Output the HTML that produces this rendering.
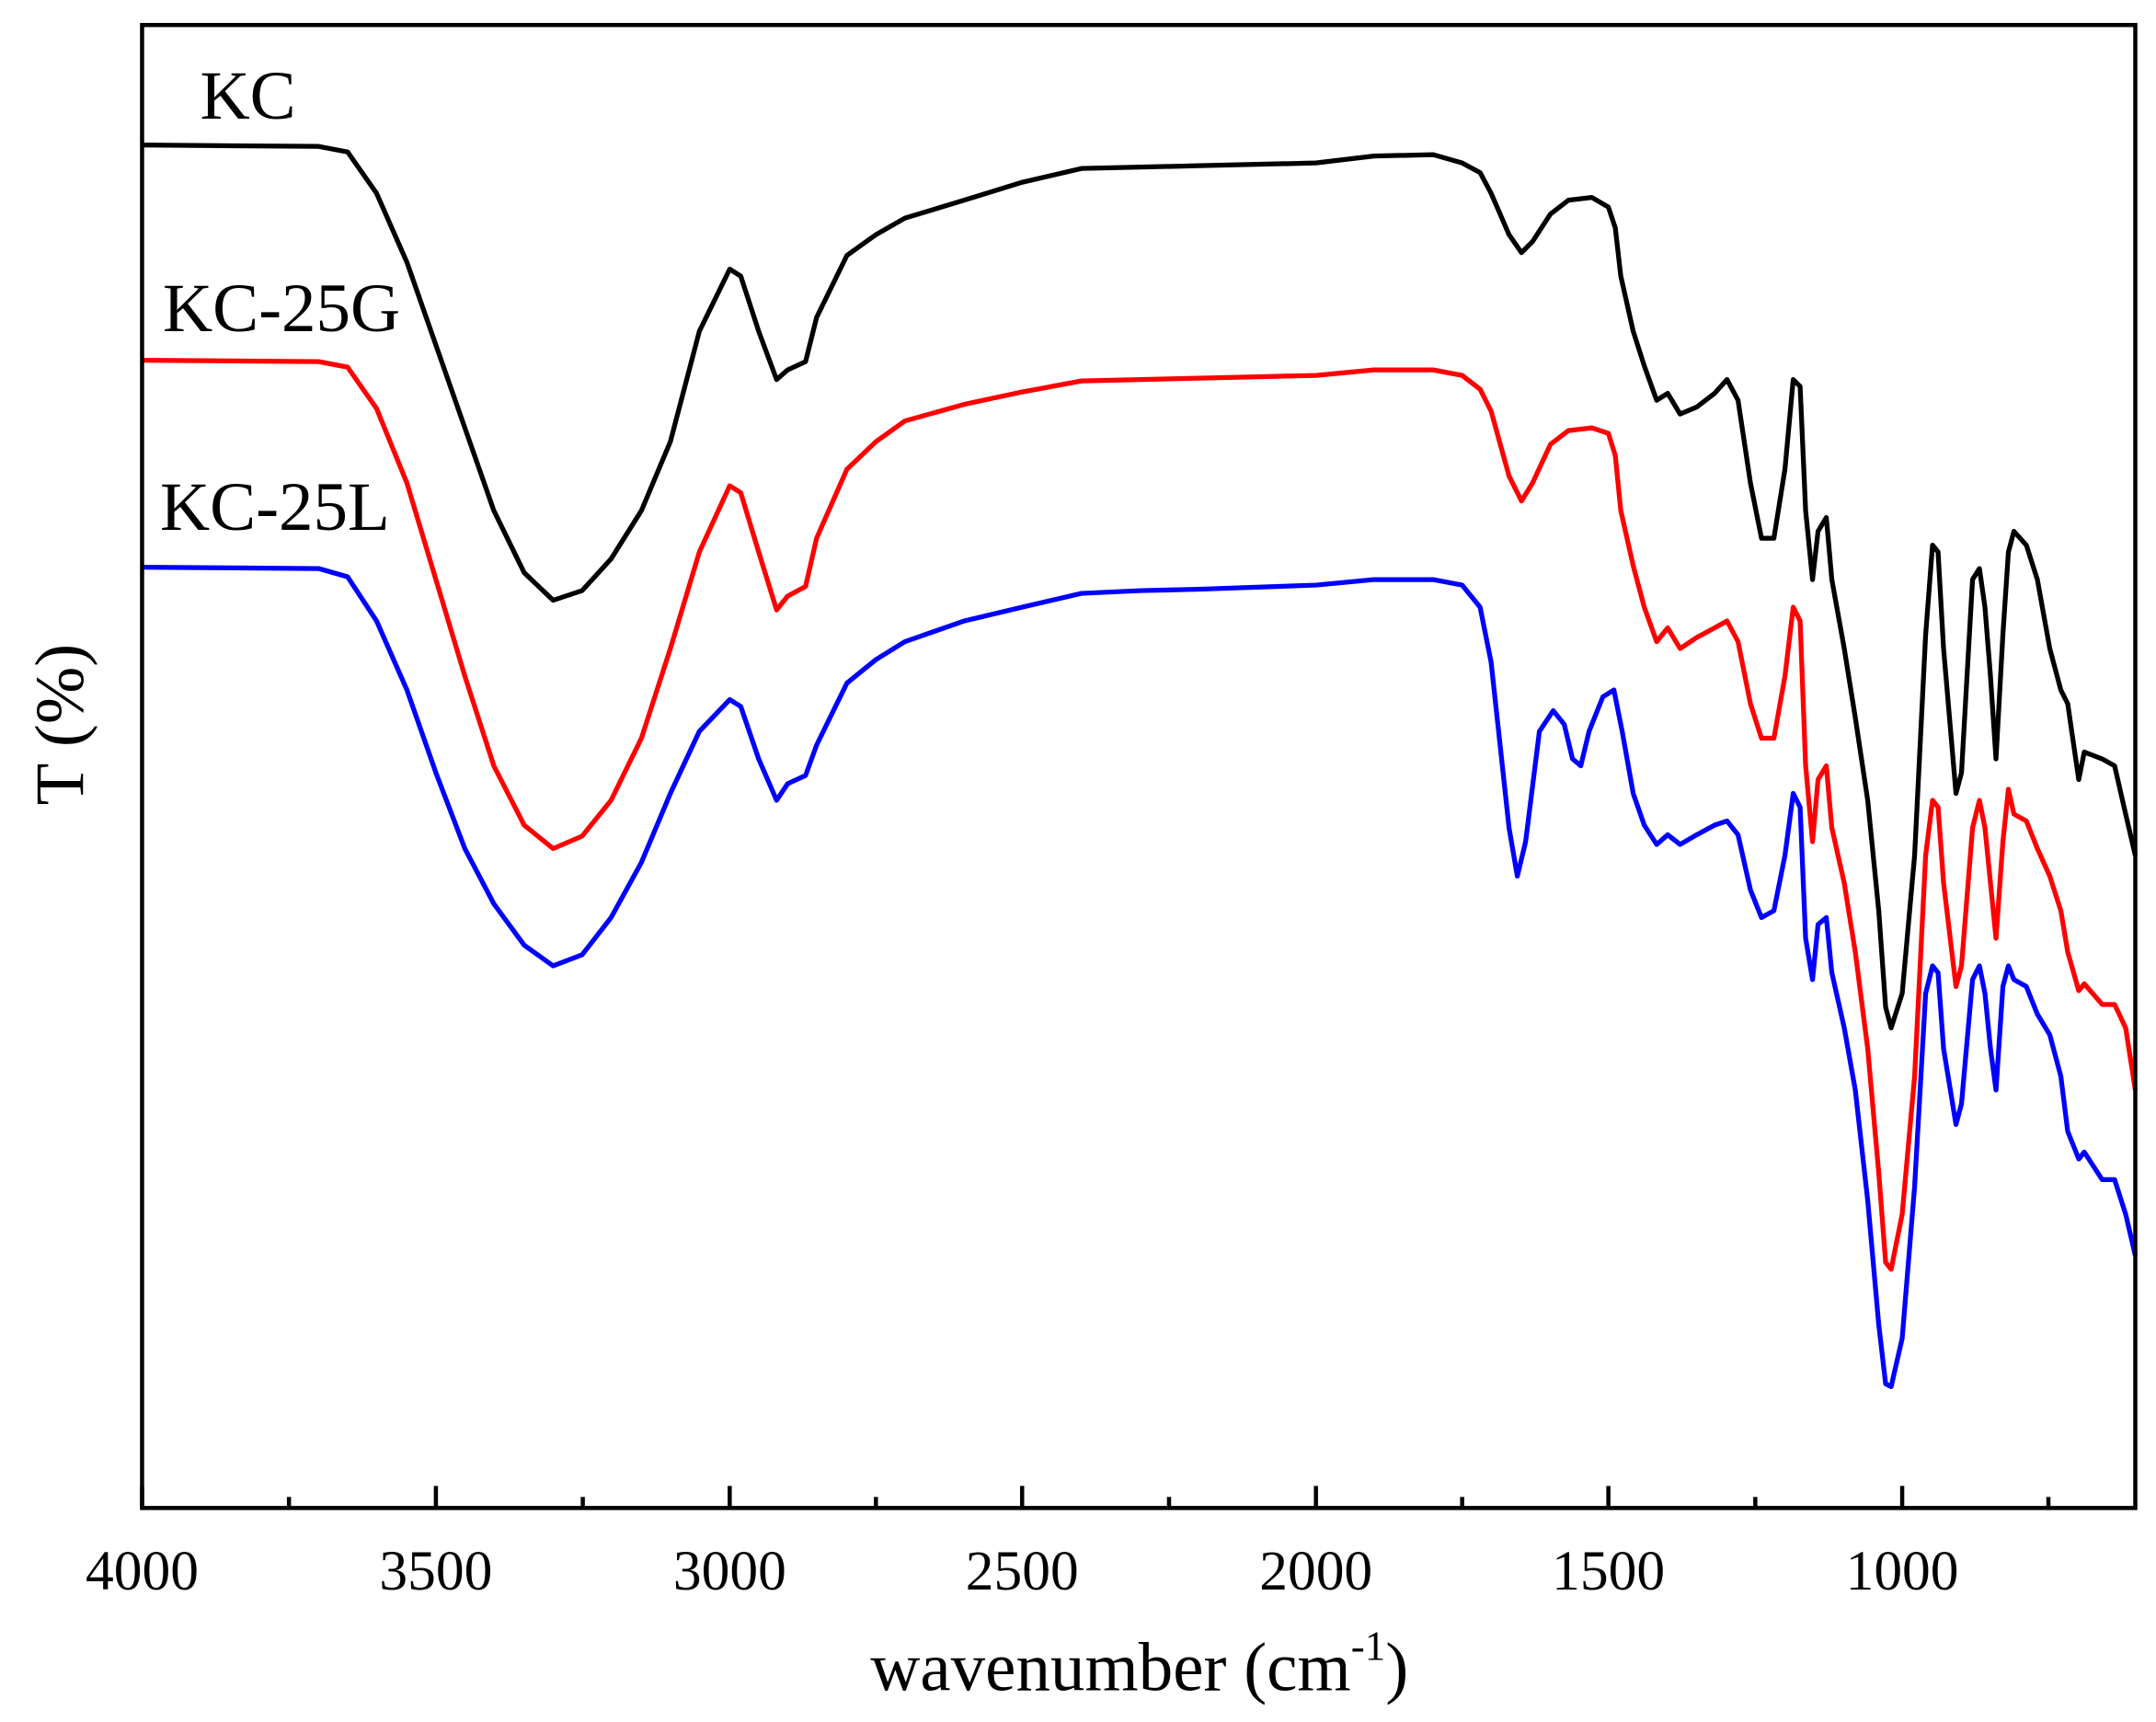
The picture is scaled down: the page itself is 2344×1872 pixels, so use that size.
<!DOCTYPE html>
<html><head><style>html,body{margin:0;padding:0;background:#fff}svg{display:block}</style></head>
<body>
<svg width="2344" height="1872" viewBox="0 0 1563 1248" xmlns="http://www.w3.org/2000/svg" font-family="Liberation Serif, serif">
<rect width="1563" height="1248" fill="#fff"/>
<g fill="none" stroke-width="3.5" stroke-linejoin="round">
<polyline stroke="#000" points="103,105 231,106 252,110 273,140 295,190 316,250 337,310 358,370 380,415 401,435 422,428 443,405 465,370 486,320 507,240 529,195 537,200 550,240 563,275 571,268 584,262 592,230 614,185 635,170 656,158 699,145 741,132 784,122 827,121 869,120 954,118 996,113 1039,112 1060,118 1073,125 1081,140 1094,170 1103,183 1111,175 1124,155 1137,145 1154,143 1166,150 1171,165 1175,200 1184,240 1192,265 1201,290 1209,285 1218,300 1230,295 1243,285 1252,275 1260,290 1269,350 1277,390 1286,390 1294,340 1300,275 1305,280 1309,370 1314,420 1318,385 1324,375 1328,420 1337,470 1345,520 1354,580 1362,660 1367,730 1371,745 1379,720 1388,620 1396,460 1401,395 1405,400 1409,470 1418,575 1422,560 1430,420 1435,412 1439,440 1443,490 1447,550 1452,460 1456,400 1460,385 1469,395 1477,420 1486,470 1494,500 1499,510 1507,565 1511,545 1524,550 1533,555 1541,590 1548,620"/>
<polyline stroke="#f00" points="103,261 231,262 252,266 273,296 295,350 316,420 337,490 358,555 380,598 401,615 422,606 443,580 465,535 486,470 507,400 529,352 537,357 550,400 563,442 571,432 584,425 592,390 614,340 635,320 656,305 699,293 741,284 784,276 827,275 869,274 954,272 996,268 1039,268 1060,272 1073,282 1081,298 1094,345 1103,363 1111,350 1124,322 1137,312 1154,310 1166,314 1171,330 1175,370 1184,410 1192,440 1201,465 1209,455 1218,470 1230,462 1243,455 1252,450 1260,465 1269,510 1277,535 1286,535 1294,490 1300,440 1305,450 1309,555 1314,610 1318,565 1324,555 1328,600 1337,640 1345,690 1354,760 1362,850 1367,915 1371,920 1379,880 1388,780 1396,620 1401,580 1405,585 1409,640 1418,715 1422,700 1430,600 1435,580 1439,600 1443,640 1447,680 1452,610 1456,572 1460,590 1469,595 1477,615 1486,635 1494,660 1499,690 1507,718 1511,713 1524,728 1533,728 1541,745 1548,790"/>
<polyline stroke="#00f" points="103,411 231,412 252,418 273,450 295,500 316,560 337,615 358,655 380,685 401,700 422,692 443,665 465,625 486,575 507,530 529,507 537,512 550,550 563,580 571,568 584,562 592,540 614,495 635,478 656,465 699,450 741,440 784,430 827,428 869,427 954,424 996,420 1039,420 1060,424 1073,440 1081,480 1094,600 1100,635 1106,610 1116,530 1126,515 1134,525 1140,550 1146,555 1152,530 1162,505 1170,500 1176,530 1184,575 1192,598 1201,612 1209,605 1218,612 1230,605 1243,598 1252,595 1260,605 1269,645 1277,665 1286,660 1294,620 1300,575 1305,585 1309,680 1314,710 1318,670 1324,665 1328,705 1337,745 1345,790 1354,870 1362,960 1367,1003 1371,1005 1379,970 1388,860 1396,720 1401,700 1405,705 1409,760 1418,815 1422,800 1430,710 1435,700 1439,720 1443,760 1447,790 1452,715 1456,700 1460,710 1469,715 1477,735 1486,750 1494,780 1499,820 1507,840 1511,835 1524,855 1533,855 1541,880 1548,910"/>
</g>
<rect x="103" y="18" width="1445" height="1075" fill="none" stroke="#000" stroke-width="3"/>
<g stroke="#000" stroke-width="3">
<line x1="103" y1="1093" x2="103" y2="1077"/><line x1="209.5" y1="1093" x2="209.5" y2="1085"/>
<line x1="316" y1="1093" x2="316" y2="1077"/><line x1="422.5" y1="1093" x2="422.5" y2="1085"/>
<line x1="529" y1="1093" x2="529" y2="1077"/><line x1="635" y1="1093" x2="635" y2="1085"/>
<line x1="741" y1="1093" x2="741" y2="1077"/><line x1="847.5" y1="1093" x2="847.5" y2="1085"/>
<line x1="954" y1="1093" x2="954" y2="1077"/><line x1="1060" y1="1093" x2="1060" y2="1085"/>
<line x1="1166" y1="1093" x2="1166" y2="1077"/><line x1="1272.5" y1="1093" x2="1272.5" y2="1085"/>
<line x1="1379" y1="1093" x2="1379" y2="1077"/><line x1="1485" y1="1093" x2="1485" y2="1085"/>
</g>
<g font-size="41" text-anchor="middle" fill="#000">
<text x="103" y="1152">4000</text><text x="316" y="1152">3500</text><text x="529" y="1152">3000</text>
<text x="741" y="1152">2500</text><text x="954" y="1152">2000</text><text x="1166" y="1152">1500</text><text x="1379" y="1152">1000</text>
</g>
<text x="826" y="1225" font-size="50" text-anchor="middle">wavenumber (cm<tspan font-size="30" dy="-22">-1</tspan><tspan dy="22">)</tspan></text>
<text transform="translate(60,525) rotate(-90)" font-size="50" text-anchor="middle">T (%)</text>
<g font-size="50">
<text x="145" y="86">KC</text><text x="118" y="240">KC-25G</text><text x="116" y="384">KC-25L</text>
</g>
</svg>
</body></html>
